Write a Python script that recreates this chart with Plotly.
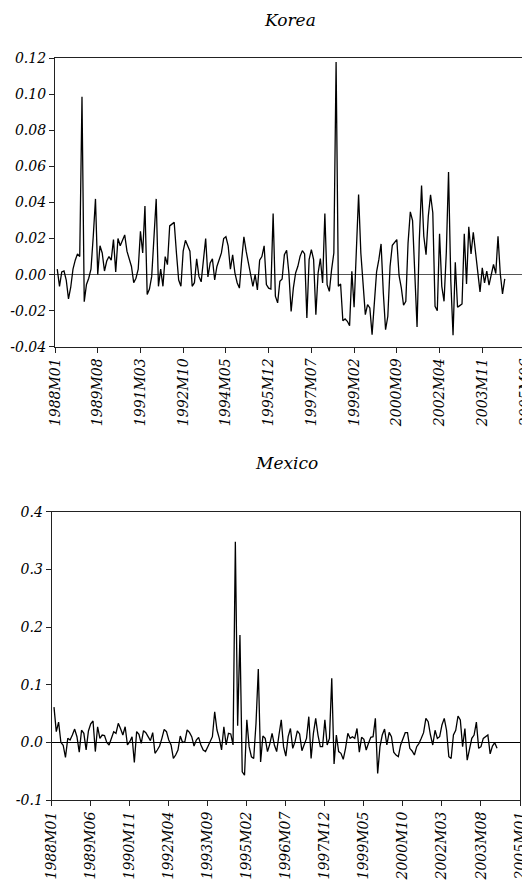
import plotly.graph_objects as go

# ---------------- data ----------------
KOREA_START = "1988M02"
KOREA_VALUES = [
    0.003, -0.0065, 0.0015, 0.002, -0.003, -0.0135, -0.007, 0.003, 0.008, 0.0115,
    0.01, 0.0987, -0.015, -0.0055, -0.002, 0.003, 0.021, 0.042, 0.0, 0.016,
    0.012, 0.002, 0.0075, 0.01, 0.008, 0.0195, 0.0015, 0.02, 0.016, 0.0195,
    0.022, 0.013, 0.008, 0.0045, -0.0045, -0.002, 0.003, 0.024, 0.012, 0.038,
    -0.011, -0.008, -0.001, 0.019, 0.042, -0.0065, 0.003, -0.0065, 0.01, 0.0055,
    0.027, 0.028, 0.029, 0.012, -0.003, -0.0065, 0.013, 0.019, 0.016, 0.013,
    -0.0065, -0.0045, 0.0087, -0.001, -0.004, 0.008, 0.02, -0.0013, 0.0065, 0.0087,
    -0.003, 0.0045, 0.008, 0.012, 0.02, 0.021, 0.016, 0.003, 0.011, 0.001,
    -0.0045, -0.0075, 0.008, 0.021, 0.013, 0.0065, -0.001, -0.0065, 0.0, -0.0085,
    0.008, 0.01, 0.016, -0.0055, -0.0075, -0.008,
    0.0339, -0.012, -0.0157, -0.0037, -0.0024, 0.0111, 0.0135, 0.0009, -0.0204, -0.0074,
    0.0009, 0.0046, 0.0102, 0.0133, 0.0115, -0.024, 0.0083, 0.0139, 0.0083, -0.0222,
    0.0009, 0.0089, -0.0046, 0.0339, -0.0056, -0.0093, 0.0028, 0.012, 0.118, -0.0065,
    -0.0052, -0.0256, -0.0246, -0.0259, -0.0283, 0.0019, -0.0181, 0.0194, 0.0444, 0.012,
    -0.0028, -0.0222, -0.0167, -0.0185, -0.0333, -0.0176, 0.0015, 0.0083, 0.017, -0.0102,
    -0.0306, -0.0231, 0.0046, 0.0163, 0.0181, 0.0194, -0.0006, -0.0074, -0.017, -0.0148,
    0.0176, 0.0348, 0.03, -0.0028, -0.0291, 0.0194, 0.0494, 0.0213, 0.0111, 0.0324,
    0.0443, 0.0343, -0.0176, -0.02, 0.0226, -0.0065, -0.0148, 0.012, 0.0569, -0.0033,
    -0.0337, 0.0069, -0.0181, -0.0172, -0.0163, 0.0226, -0.0052, 0.0265, 0.0115, 0.0235,
    0.013, 0.0009, -0.0096, 0.0037, -0.0046, 0.0019, -0.0059, 0.0, 0.0056, 0.0006,
    0.0213, 0.0006, -0.0107, -0.0024,
]

MEXICO_START = "1988M02"
MEXICO_VALUES = [
    0.061, 0.0185, 0.035, 0.0, -0.005, -0.026, 0.007, 0.004, 0.0127, 0.023,
    0.0098, -0.017, 0.021, 0.0156, -0.013, 0.0197, 0.032, 0.037, -0.016, 0.027,
    0.0069, 0.0127, 0.0116, 0.0, -0.0046, 0.0058, 0.0185, 0.0156, 0.033, 0.0237,
    0.0127, 0.027, -0.0046, 0.0012, 0.0098, -0.035, 0.0185, 0.0139, -0.0017, 0.0202,
    0.0168, 0.0098, 0.0029, 0.0168, -0.019, -0.0133, -0.0064, 0.0069, 0.0225, 0.0185,
    0.004, -0.0046, -0.028, -0.022, -0.0133, 0.011, 0.0, 0.0012, 0.0214, 0.0173,
    0.0098, -0.0064, 0.004, 0.0087, -0.0046, -0.0133, -0.016, -0.0075, 0.0012, 0.0098,
    0.053, 0.0214, 0.0069, -0.013, 0.027, -0.0046, 0.0156, 0.0145, -0.0046, 0.348,
    0.029, 0.186, -0.051, -0.057, 0.039, -0.0075, -0.025, -0.028, 0.033, 0.127,
    -0.034, 0.011, 0.007, -0.016, -0.003, 0.0156, -0.0046, -0.016, 0.0127, 0.039,
    -0.0075, -0.024, 0.0098, 0.024, -0.0104, 0.0012, 0.020, 0.0145, -0.0145, -0.0017,
    0.0069, 0.0445, -0.028, 0.0156, 0.0416, 0.0127, -0.0075, -0.0075, 0.039, -0.0046,
    0.0069, 0.111, -0.0376, 0.0127, -0.016, -0.019, -0.0295, -0.0104, 0.0156, 0.0069,
    0.0098, 0.0069, 0.024, -0.017, 0.0087, 0.0052, -0.0133, -0.0017, 0.0087, 0.0098,
    0.0416, -0.054, -0.0075, 0.0127, 0.023, -0.0046, 0.0173, 0.0098, -0.017, -0.022,
    -0.0249, -0.0046, 0.0069, 0.0168, 0.0168, -0.0104, -0.015, -0.022, -0.0075, -0.0017,
    0.0069, 0.0168, 0.0416, 0.0358, 0.0127, -0.0046, 0.021, 0.0069, 0.0098, 0.030,
    0.0416, 0.021, -0.0249, -0.028, 0.0127, 0.021, 0.0457, 0.039, -0.0075, 0.024,
    -0.031, -0.0104, 0.0069, 0.0127, 0.035, -0.0104, -0.0075, 0.0069, 0.0098, 0.0127,
    -0.020, -0.0064, -0.0006, -0.0104,
]

KOREA_XTICKS = ["1988M01", "1989M08", "1991M03", "1992M10", "1994M05", "1995M12",
                "1997M07", "1999M02", "2000M09", "2002M04", "2003M11", "2005M06"]
MEXICO_XTICKS = ["1988M01", "1989M06", "1990M11", "1992M04", "1993M09", "1995M02",
                 "1996M07", "1997M12", "1999M05", "2000M10", "2002M03", "2003M08", "2005M01"]

KOREA_YTICKS = [-0.04, -0.02, 0.0, 0.02, 0.04, 0.06, 0.08, 0.10, 0.12]
KOREA_YLABELS = ["-0.04", "-0.02", "0.00", "0.02", "0.04", "0.06", "0.08", "0.10", "0.12"]
MEXICO_YTICKS = [-0.1, 0.0, 0.1, 0.2, 0.3, 0.4]
MEXICO_YLABELS = ["-0.1", "0.0", "0.1", "0.2", "0.3", "0.4"]


def month_index(label):
    return (int(label[:4]) - 1988) * 12 + int(label[5:]) - 1


def idx_to_label(i):
    return f"{1988 + i // 12}M{i % 12 + 1:02d}"


k0 = month_index(KOREA_START)
m0 = month_index(MEXICO_START)
korea_x = [k0 + i for i in range(len(KOREA_VALUES))]
mexico_x = [m0 + i for i in range(len(MEXICO_VALUES))]

# the page body has an 8px default margin; shift the figure so it lines up with the window
OFF = 8
W, H = 530 - OFF, 882 - OFF


def px(x):
    return (x - OFF) / W


def py(y):
    return 1 - (y - OFF) / H


FONT = dict(family="DejaVu Serif", size=14, color="black", style="italic")
LINE = dict(color="black", width=1.3)

fig = go.Figure()
fig.add_trace(go.Scatter(x=korea_x, y=KOREA_VALUES, mode="lines", line=LINE,
                         text=[idx_to_label(i) for i in korea_x],
                         xaxis="x", yaxis="y", showlegend=False))
fig.add_trace(go.Scatter(x=mexico_x, y=MEXICO_VALUES, mode="lines", line=LINE,
                         text=[idx_to_label(i) for i in mexico_x],
                         xaxis="x2", yaxis="y2", showlegend=False))

axis_common = dict(showline=True, linecolor="#222", linewidth=1.2, mirror=True,
                   ticks="outside", ticklen=5, tickwidth=1, tickcolor="#222",
                   showgrid=False, tickfont=FONT, automargin=False,
                   ticklabeloverflow="allow")

k_ticks = [month_index(t) for t in KOREA_XTICKS]
m_ticks = [month_index(t) for t in MEXICO_XTICKS]

fig.update_layout(
    width=W, height=H,
    margin=dict(l=0, r=0, t=0, b=0, autoexpand=False),
    paper_bgcolor="white", plot_bgcolor="white",
    xaxis=dict(domain=[px(55), px(525)], range=[k_ticks[0], k_ticks[-1]],
               tickvals=k_ticks, ticktext=KOREA_XTICKS, tickangle=-90,
               zeroline=False, anchor="y", **axis_common),
    yaxis=dict(domain=[py(346.7), py(58.3)], range=[-0.04, 0.12],
               tickvals=KOREA_YTICKS, ticktext=KOREA_YLABELS,
               zeroline=True, zerolinecolor="#555", zerolinewidth=1.2,
               anchor="x", **axis_common),
    xaxis2=dict(domain=[px(51.7), px(520)], range=[m_ticks[0], m_ticks[-1]],
                tickvals=m_ticks, ticktext=MEXICO_XTICKS, tickangle=-90,
                zeroline=False, anchor="y2", **axis_common),
    yaxis2=dict(domain=[py(800), py(511.7)], range=[-0.1, 0.4],
                tickvals=MEXICO_YTICKS, ticktext=MEXICO_YLABELS,
                zeroline=True, zerolinecolor="black", zerolinewidth=1.2,
                anchor="x2", **axis_common),
    annotations=[
        dict(text="Korea", xref="paper", yref="paper", x=px(290), y=1.0,
             showarrow=False, xanchor="center", yanchor="top",
             font=dict(family="DejaVu Serif", size=17, color="black", style="italic")),
        dict(text="Mexico", xref="paper", yref="paper", x=px(286), y=py(463),
             showarrow=False, xanchor="center", yanchor="middle",
             font=dict(family="DejaVu Serif", size=17, color="black", style="italic")),
    ],
)

fig.write_html("out.html")
